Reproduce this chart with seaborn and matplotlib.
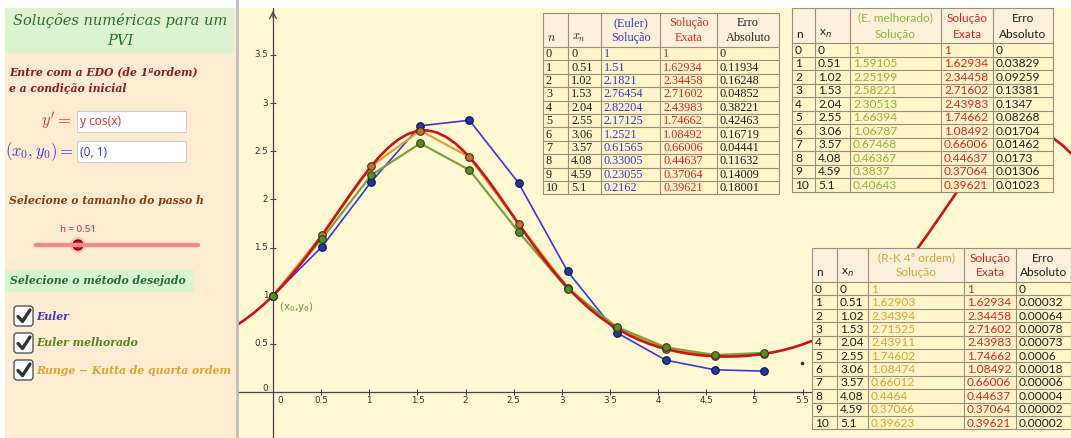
import matplotlib
matplotlib.use("Agg")
import matplotlib.pyplot as plt
import pandas as pd
import seaborn as sns
from matplotlib.patches import Rectangle, FancyBboxPatch, Circle

# ---------------- data ----------------
n_idx = list(range(11))
xn = [0, 0.51, 1.02, 1.53, 2.04, 2.55, 3.06, 3.57, 4.08, 4.59, 5.1]
euler = [1, 1.51, 2.1821, 2.76454, 2.82204, 2.17125, 1.2521, 0.61565, 0.33005, 0.23055, 0.2162]
improved = [1, 1.59105, 2.25199, 2.58221, 2.30513, 1.66394, 1.06787, 0.67468, 0.46367, 0.3837, 0.40643]
rk4 = [1, 1.62903, 2.34394, 2.71525, 2.43911, 1.74602, 1.08474, 0.66012, 0.4464, 0.37066, 0.39623]
exact = [1, 1.62934, 2.34458, 2.71602, 2.43983, 1.74662, 1.08492, 0.66006, 0.44637, 0.37064, 0.39621]
err_euler = [0, 0.11934, 0.16248, 0.04852, 0.38221, 0.42463, 0.16719, 0.04441, 0.11632, 0.14009, 0.18001]
err_improved = [0, 0.03829, 0.09259, 0.13381, 0.1347, 0.08268, 0.01704, 0.01462, 0.0173, 0.01306, 0.01023]
err_rk4 = [0, 0.00032, 0.00064, 0.00078, 0.00073, 0.0006, 0.00018, 0.00006, 0.00004, 0.00002, 0.00002]

# exact solution curve (red)
curve_x = [-0.4, -0.3, -0.2, -0.1, 0.0, 0.1, 0.2, 0.3, 0.4, 0.5, 0.6, 0.7, 0.8, 0.9,
           1.0, 1.1, 1.2, 1.3, 1.4, 1.5, 1.6, 1.7, 1.8, 1.9, 2.0, 2.1, 2.2, 2.3, 2.4,
           2.5, 2.6, 2.7, 2.8, 2.9, 3.0, 3.1, 3.2, 3.3, 3.4, 3.5, 3.6, 3.7, 3.8, 3.9,
           4.0, 4.1, 4.2, 4.3, 4.4, 4.5, 4.6, 4.7, 4.8, 4.9, 5.0, 5.1, 5.2, 5.3, 5.4,
           5.5, 5.6, 5.7, 5.8, 5.9, 6.0, 6.1, 6.2, 6.3, 6.4, 6.5, 6.6, 6.7, 6.8, 6.9,
           7.0, 7.1, 7.2, 7.3, 7.4, 7.5, 7.6, 7.7, 7.8, 7.9, 8.0, 8.1, 8.2, 8.3, 8.4]
curve_y = [0.6775, 0.7442, 0.8198, 0.9050, 1.0, 1.1050, 1.2198, 1.3438, 1.4761, 1.6151,
           1.7588, 1.9045, 2.0492, 2.1888, 2.3198, 2.4381, 2.5396, 2.6210, 2.6790, 2.7115,
           2.7172, 2.6958, 2.6480, 2.5762, 2.4826, 2.3707, 2.2445, 2.1078, 1.9651, 1.8193,
           1.6745, 1.5333, 1.3980, 1.2702, 1.1516, 1.0425, 0.9433, 0.8541, 0.7745, 0.7042,
           0.6424, 0.5887, 0.5423, 0.5027, 0.4692, 0.4412, 0.4183, 0.4000, 0.3861, 0.3763,
           0.3702, 0.3679, 0.3693, 0.3744, 0.3833, 0.3962, 0.4134, 0.4350, 0.4617, 0.4939,
           0.5319, 0.5765, 0.6284, 0.6880, 0.7562, 0.8334, 0.9202, 1.0170, 1.1236, 1.2400,
           1.3655, 1.4990, 1.6391, 1.7833, 1.9290, 2.0731, 2.2114, 2.3405, 2.4564, 2.5548,
           2.6325, 2.6864, 2.7142, 2.7153, 2.6896, 2.6377, 2.5618, 2.4650, 2.3505]

x_ticks = [0, 0.5, 1, 1.5, 2, 2.5, 3, 3.5, 4, 4.5, 5, 5.5]
y_ticks = [0, 0.5, 1, 1.5, 2, 2.5, 3, 3.5]
step_h = 0.51

# ---------------- colours ----------------
C_EXACT = "#CC1414"
C_EULER = "#3838E6"
C_EULER_M = "#1E3A9A"
C_IMP = "#7DA23A"
C_IMP_M = "#5E8A26"
C_RK = "#E0A034"
C_RK_M = "#C07030"
BG_GRAPH = "#FFF8D3"
BG_LEFT = "#FDEBD2"

sns.set_theme(style="white")
plt.rcParams["font.family"] = ["DejaVu Sans"]

fig = plt.figure(figsize=(10.71, 4.38), dpi=100)
fig.patch.set_facecolor("white")

# ---------------- graph ----------------
gx = fig.add_axes([238 / 1071, 0, 833 / 1071, 430 / 438])
gx.set_facecolor(BG_GRAPH)
gx.set_xlim(-0.363, 8.287)
gx.set_ylim(-0.478, 3.988)
for s in gx.spines.values():
    s.set_visible(False)
gx.set_xticks([])
gx.set_yticks([])

gx.axhline(0, color="#444444", lw=0.9, zorder=1)
gx.axvline(0, color="#444444", lw=0.9, zorder=1)
gx.annotate("", xy=(0, 3.99), xytext=(0, 3.86),
            arrowprops=dict(arrowstyle="->", color="#444444", lw=0.9))
gx.plot(x_ticks[1:], [0] * (len(x_ticks) - 1), ls="none", marker="|", ms=4,
        color="#444444", mew=0.8, zorder=1)
gx.plot([0] * (len(y_ticks) - 1), y_ticks[1:], ls="none", marker="_", ms=4,
        color="#444444", mew=0.8, zorder=1)


def tick_txt(v):
    return ("%g" % v)


for t in x_ticks:
    gx.text(t + (0.07 if t == 0 else 0), -0.085, tick_txt(t), ha="center", va="center",
            fontsize=6.3, color="#333333")
for t in y_ticks:
    gx.text(-0.05, t + (0.04 if t == 0 else 0), tick_txt(t), ha="right", va="center",
            fontsize=6.3, color="#333333")

df = pd.DataFrame({"x": xn, "euler": euler, "improved": improved, "rk4": rk4})
curve = pd.DataFrame({"x": curve_x, "y": curve_y})

sns.lineplot(data=curve, x="x", y="y", ax=gx, color=C_EXACT, lw=1.9,
             sort=False, estimator=None, zorder=4)
sns.lineplot(data=df, x="x", y="euler", ax=gx, color=C_EULER, lw=1.2,
             sort=False, estimator=None, zorder=3)
sns.lineplot(data=df, x="x", y="rk4", ax=gx, color=C_RK, lw=1.6,
             sort=False, estimator=None, zorder=3.5)
sns.lineplot(data=df, x="x", y="improved", ax=gx, color=C_IMP, lw=1.6,
             sort=False, estimator=None, zorder=3.6)
sns.scatterplot(data=df, x="x", y="euler", ax=gx, s=30, color=C_EULER_M,
                edgecolor="#0A1550", linewidth=0.8, zorder=6)
sns.scatterplot(data=df, x="x", y="rk4", ax=gx, s=30, color=C_RK_M,
                edgecolor="#4A2E10", linewidth=0.8, zorder=6)
sns.scatterplot(data=df, x="x", y="improved", ax=gx, s=30, color=C_IMP_M,
                edgecolor="#2A3E10", linewidth=0.8, zorder=7)
gx.set_xlabel("")
gx.set_ylabel("")
gx.annotate("(x$_0$,y$_0$)", (xn[0], improved[0]), xytext=(4, -8),
            textcoords="offset points", fontsize=7.5, color="#5FA040", va="center")

# ---------------- overlay (panel + tables) ----------------
ui = fig.add_axes([0, 0, 1, 1])
ui.set_xlim(0, 1071)
ui.set_ylim(438, 0)
ui.axis("off")
ui.patch.set_alpha(0)

ui.add_patch(Rectangle((5, 8), 231, 430, facecolor=BG_LEFT, edgecolor="none"))
ui.add_patch(Rectangle((5, 8), 229, 45, facecolor="#DDF3CF", edgecolor="none"))
ui.plot([237, 237], [0, 438], color="#BDBDBD", lw=2)

serif = "DejaVu Serif"
ui.text(120, 21, "Soluções numéricas para um", ha="center", va="center", family=serif,
        style="italic", fontsize=10.5, color="#2A742A")
ui.text(120, 41, "PVI", ha="center", va="center", family=serif,
        style="italic", fontsize=10.5, color="#2A742A")
ui.text(9, 72, "Entre com a EDO (de 1ªordem)", ha="left", va="center", family=serif,
        style="italic", weight="bold", fontsize=7.8, color="#8B1E1E")
ui.text(9, 88, "e a condição inicial", ha="left", va="center", family=serif,
        style="italic", weight="bold", fontsize=7.8, color="#8B1E1E")

ui.text(72, 121, "$y' =$", ha="right", va="center", fontsize=12, color="#E03535",
        math_fontfamily="cm")
ui.add_patch(Rectangle((77, 111), 109, 21, facecolor="white", edgecolor="#CFCFCF", lw=0.8))
ui.text(80, 122, "y cos(x)", ha="left", va="center", fontsize=8.5, color="#E03535",
        family="Noto Sans")
ui.text(74, 152, "$(x_0, y_0) =$", ha="right", va="center", fontsize=12, color="#4040D0",
        math_fontfamily="cm")
ui.add_patch(Rectangle((77, 141), 109, 21, facecolor="white", edgecolor="#CFCFCF", lw=0.8))
ui.text(80, 152, "(0, 1)", ha="left", va="center", fontsize=8.5, color="#4040D0",
        family="Noto Sans")

ui.text(9, 200, "Selecione o tamanho do passo h", ha="left", va="center", family=serif,
        style="italic", weight="bold", fontsize=7.8, color="#8A3E14")
ui.text(78, 229, "h = %.2f" % step_h, ha="center", va="center", fontsize=7,
        color="#CC3344", family="Noto Sans")
ui.plot([36, 198], [245, 245], color="#F28A8A", lw=3.2, solid_capstyle="round")
ui.add_patch(Circle((78, 245), 8, facecolor="#F7B0B0", edgecolor="none", alpha=0.7))
ui.add_patch(Circle((78, 245), 5, facecolor="#E0002A", edgecolor="#5A0010", lw=0.9))

ui.add_patch(Rectangle((5, 270), 189, 22, facecolor="#D9F5CF", edgecolor="none"))
ui.text(10, 281, "Selecione o método desejado", ha="left", va="center", family=serif,
        style="italic", weight="bold", fontsize=7.8, color="#2B6B3C")

methods = ["Euler", "Euler melhorado", "Runge − Kutta de quarta ordem"]
method_colors = ["#3C3CD0", "#4F8A1F", "#D8A630"]
for i, (m, c) in enumerate(zip(methods, method_colors)):
    yc = 316 + 27 * i
    ui.add_patch(FancyBboxPatch((14, yc - 10), 19, 20,
                                boxstyle="round,pad=0,rounding_size=3",
                                facecolor="white", edgecolor="#555555", lw=1.0))
    ui.plot([18, 22.5, 30], [yc + 0.5, yc + 5.5, yc - 6], color="#333333", lw=2.4,
            solid_capstyle="round", solid_joinstyle="round")
    ui.text(36, yc, m, ha="left", va="center", family=serif, style="italic",
            weight="bold", fontsize=7.8, color=c)

# small stray point seen in the graph
ui.plot([802], [363], marker="o", ms=1.6, color="#333333", ls="none")


def fmt(v):
    s = "%.5f" % v
    s = s.rstrip("0").rstrip(".")
    return s if s else "0"


def draw_table(edges, top, head_h, row_h, headers, cols, col_colors, family, fs,
               math_first=False):
    n_rows = len(cols[0])
    bottom = top + head_h + row_h * n_rows
    ui.add_patch(Rectangle((edges[0], top), edges[-1] - edges[0], head_h,
                           facecolor="#FBF1DA", edgecolor="none", zorder=5))
    ui.add_patch(Rectangle((edges[0], top + head_h), edges[-1] - edges[0], row_h * n_rows,
                           facecolor="#FFF5C9", edgecolor="none", zorder=5))
    lc = "#9A8E7A"
    for e in edges:
        ui.plot([e, e], [top, bottom], color=lc, lw=0.8, zorder=6)
    ui.plot([edges[0], edges[-1]], [top, top], color=lc, lw=0.8, zorder=6)
    for r in range(n_rows + 1):
        yy = top + head_h + r * row_h
        ui.plot([edges[0], edges[-1]], [yy, yy], color=lc, lw=0.8, zorder=6)
    for j, h in enumerate(headers):
        left, right = edges[j], edges[j + 1]
        if len(h) == 1:
            ui.text(left + 4, top + head_h - 9, h[0], ha="left", va="center",
                    family=family, fontsize=fs, color=col_colors[j], zorder=7,
                    math_fontfamily="cm" if math_first else "dejavusans")
        else:
            ui.text((left + right) / 2, top + 10, h[0], ha="center", va="center",
                    family=family, fontsize=fs, color=col_colors[j], zorder=7)
            ui.text((left + right) / 2, top + head_h - 9, h[1], ha="center", va="center",
                    family=family, fontsize=fs, color=col_colors[j], zorder=7)
    for j, col in enumerate(cols):
        for r, val in enumerate(col):
            yy = top + head_h + (r + 0.5) * row_h
            ui.text(edges[j] + 3, yy + 0.5, val, ha="left", va="center", family=family,
                    fontsize=fs, color=col_colors[j], zorder=7)


n_txt = [str(i) for i in n_idx]
x_txt = [fmt(v) for v in xn]
RED_T = "#E02424"
BLK_T = "#222222"

draw_table([543, 568, 601, 660, 717, 779], 13, 34, 13.4,
           [["$n$"], ["$x_n$"], ["(Euler)", "Solução"], ["Solução", "Exata"],
            ["Erro", "Absoluto"]],
           [n_txt, x_txt, [fmt(v) for v in euler], [fmt(v) for v in exact],
            [fmt(v) for v in err_euler]],
           [BLK_T, BLK_T, "#3A3AD0", RED_T, BLK_T], "Liberation Serif", 8.8,
           math_first=True)

draw_table([792, 815, 850, 941, 993, 1053], 8, 35, 13.5,
           [["n"], ["x$_n$"], ["(E. melhorado)", "Solução"], ["Solução", "Exata"],
            ["Erro", "Absoluto"]],
           [n_txt, x_txt, [fmt(v) for v in improved], [fmt(v) for v in exact],
            [fmt(v) for v in err_improved]],
           [BLK_T, BLK_T, "#8DB43E", RED_T, BLK_T], "Lato", 8.6)

draw_table([812, 837, 868, 964, 1016, 1071], 248, 34, 13.4,
           [["n"], ["x$_n$"], ["(R-K 4ª ordem)", "Solução"], ["Solução", "Exata"],
            ["Erro", "Absoluto"]],
           [n_txt, x_txt, [fmt(v) for v in rk4], [fmt(v) for v in exact],
            [fmt(v) for v in err_rk4]],
           [BLK_T, BLK_T, "#D4A535", RED_T, BLK_T], "Lato", 8.6)

fig.savefig("out.png", dpi=100, facecolor=fig.get_facecolor())
